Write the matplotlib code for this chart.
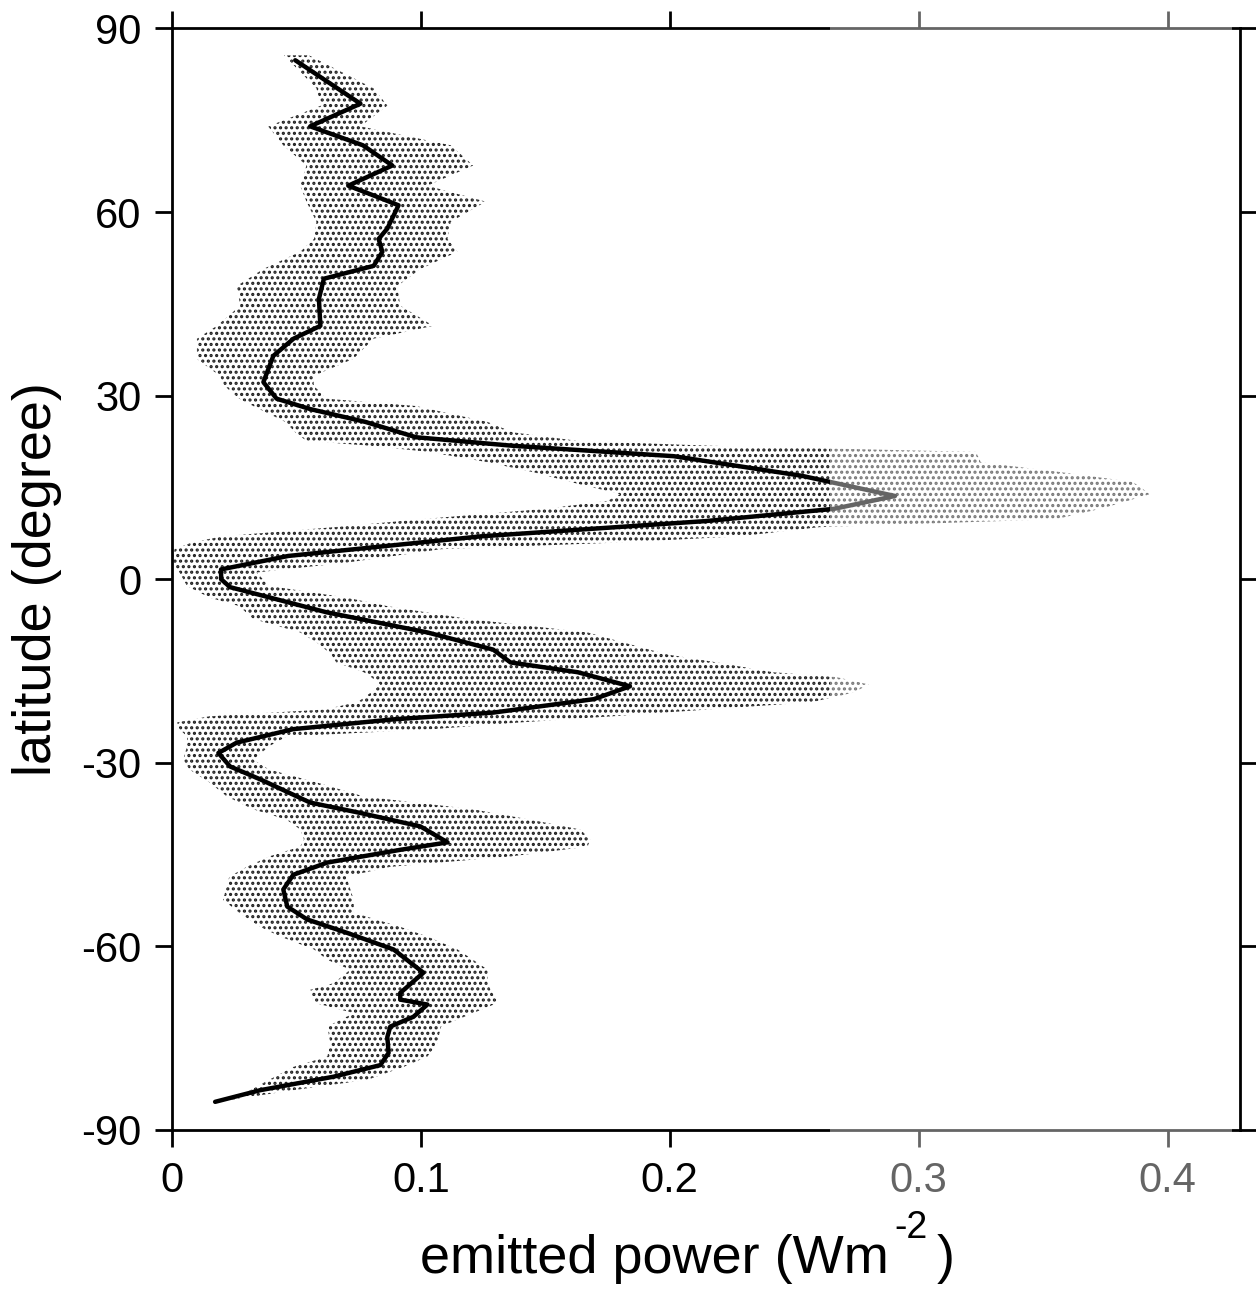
'''
Zonal profile of emitted power with its spread band
'''

import matplotlib
matplotlib.use('Agg')
import numpy as np
import matplotlib.pyplot as plt
from matplotlib.patches import Rectangle


##################################
# data

# mean curve, north to south
lat_line = [84.8, 77.7, 74.0, 70.9, 67.6, 64.3, 62.7, 61.1, 57.3, 55.6, 53.5, 51.2,
            49.1, 45.8, 41.4, 39.3, 36.5, 32.2, 29.5, 27.8, 25.7, 23.2, 21.8, 20.1,
            16.9, 13.6, 11.5, 9.5, 7.0, 3.8, 1.6, 0.0, -1.3, -5.4, -8.7, -11.5,
            -13.6, -15.2, -17.5, -19.6, -21.8, -22.9, -24.5, -26.7, -28.4, -30.6,
            -32.7, -36.5, -38.2, -40.4, -43.0, -44.2, -46.3, -48.3, -50.7, -53.5,
            -55.6, -57.8, -60.5, -64.3, -67.6, -68.7, -69.5, -71.5, -73.1, -74.8,
            -77.4, -79.4, -81.3, -83.5, -85.4]
power_line = [0.0495, 0.0757, 0.0555, 0.0767, 0.0885, 0.0708, 0.081, 0.091, 0.0865,
              0.083, 0.0845, 0.081, 0.061, 0.059, 0.0596, 0.0488, 0.0407, 0.0367,
              0.042, 0.0555, 0.0777, 0.098, 0.137, 0.2016, 0.253, 0.2905, 0.266,
              0.2145, 0.124, 0.0467, 0.0197, 0.0197, 0.0233, 0.062, 0.1026, 0.129,
              0.136, 0.163, 0.184, 0.1695, 0.129, 0.089, 0.0487, 0.026, 0.0186,
              0.0233, 0.0354, 0.0555, 0.0757, 0.0998, 0.1107, 0.092, 0.0624, 0.0487,
              0.0447, 0.0463, 0.0543, 0.0704, 0.089, 0.101, 0.0917, 0.0917, 0.1026,
              0.097, 0.0877, 0.0865, 0.087, 0.0837, 0.0648, 0.0354, 0.0173]

# spread band (lower and upper edge)
lat_band = [85.6, 80.2, 77.4, 74.0, 70.9, 67.6, 64.3, 61.7, 58.4, 55.6, 53.5, 50.7,
            47.9, 44.7, 41.4, 39.3, 36.0, 33.2, 31.6, 29.5, 28.3, 25.7, 24.0, 22.6,
            21.8, 20.8, 19.1, 17.5, 15.9, 13.9, 12.8, 11.5, 9.8, 8.5, 7.0, 6.0, 4.9,
            2.7, 1.1, -1.1, -3.0, -4.4, -6.5, -8.7, -10.3, -12.3, -13.6, -15.2,
            -16.0, -17.2, -18.5, -20.1, -21.3, -22.4, -23.4, -24.5, -25.7, -27.3,
            -29.5, -31.1, -33.2, -35.5, -37.6, -39.3, -40.9, -42.5, -43.7, -45.3,
            -47.0, -48.6, -52.4, -54.5, -56.8, -58.4, -60.5, -62.2, -63.8, -66.0,
            -67.1, -69.2, -70.9, -73.1, -75.8, -78.0, -79.7, -81.8, -83.5, -85.0]
band_lo = [0.045, 0.058, 0.060, 0.0386, 0.0447, 0.054, 0.0515, 0.054, 0.058, 0.057,
           0.0515, 0.0367, 0.026, 0.0274, 0.018, 0.010, 0.010, 0.0193, 0.021, 0.027,
           0.0326, 0.0455, 0.0495, 0.054, 0.080, 0.103, 0.127, 0.145, 0.160, 0.180,
           0.175, 0.150, 0.100, 0.065, 0.020, 0.008, 0.001, 0.000, 0.003, 0.006,
           0.015, 0.027, 0.0326, 0.0515, 0.058, 0.064, 0.066, 0.077, 0.080, 0.0837,
           0.080, 0.0745, 0.061, 0.015, 0.002, 0.003, 0.006, 0.006, 0.0045, 0.007,
           0.015, 0.022, 0.0326, 0.046, 0.0515, 0.053, 0.0515, 0.039, 0.030, 0.023,
           0.0205, 0.027, 0.0354, 0.0435, 0.057, 0.0624, 0.0716, 0.065, 0.0555,
           0.057, 0.073, 0.0624, 0.0636, 0.0624, 0.0487, 0.039, 0.0314, 0.020]
band_hi = [0.055, 0.081, 0.0865, 0.0757, 0.112, 0.121, 0.1026, 0.126, 0.112, 0.1107,
           0.1147, 0.0998, 0.0905, 0.0917, 0.105, 0.081, 0.0728, 0.0567, 0.057, 0.062,
           0.098, 0.1268, 0.137, 0.163, 0.217, 0.323, 0.325, 0.357, 0.386, 0.393,
           0.384, 0.373, 0.355, 0.260, 0.228, 0.180, 0.108, 0.070, 0.034, 0.039,
           0.070, 0.0865, 0.119, 0.167, 0.181, 0.199, 0.219, 0.2415, 0.267, 0.280,
           0.274, 0.257, 0.215, 0.177, 0.140, 0.105, 0.046, 0.039, 0.0326, 0.039,
           0.058, 0.077, 0.121, 0.144, 0.164, 0.168, 0.167, 0.136, 0.0877, 0.070,
           0.073, 0.073, 0.0917, 0.1026, 0.1147, 0.121, 0.1268, 0.1268, 0.128,
           0.131, 0.121, 0.108, 0.1066, 0.1026, 0.093, 0.0785, 0.0487, 0.025]

xticks = [0, 0.1, 0.2, 0.3, 0.4]
xticklabels = ['0', '0.1', '0.2', '0.3', '0.4']
yticks = [90, 60, 30, 0, -30, -60, -90]
yticklabels = ['90', '60', '30', '0', '-30', '-60', '-90']


##################################

plt.rcParams['font.family'] = ['Liberation Sans', 'DejaVu Sans']
plt.rcParams['hatch.linewidth'] = 1.5

W, H = 1256, 1292
fig = plt.figure(figsize=(W/100, H/100), dpi=100)
ax = fig.add_axes([0.137, 0.1254, 0.850, 0.8526])

# stippled spread band
ax.fill_betweenx(lat_band, band_lo, band_hi, facecolor='none', edgecolor='#1e1e1e',
                 hatch='...', linewidth=0, zorder=1)

# mean curve
ax.plot(power_line, lat_line, color='black', lw=3.2, zorder=3,
        solid_joinstyle='round', solid_capstyle='round')

ax.set_xlim(0, 0.429)
ax.set_ylim(-90, 90)
ax.set_xticks(xticks)
ax.set_xticklabels(xticklabels)
ax.set_yticks(yticks)
ax.set_yticklabels(yticklabels)
ax.tick_params(direction='out', length=12, width=2, labelsize=30, pad=10,
               top=True, right=True)
for s in ax.spines.values():
  s.set_linewidth(2)

# x label in three pieces so the "-2" sits raised after "Wm"
fig.text(420/W, 1 - 1273/H, 'emitted power (Wm', fontsize=39, ha='left', va='baseline')
fig.text(894/W, 1 - 1238/H, '-2', fontsize=27, ha='left', va='baseline')
fig.text(937/W, 1 - 1273/H, ')', fontsize=39, ha='left', va='baseline')
ax.set_ylabel('latitude (degree)', fontsize=39, labelpad=14)

# lighter strip of the scanned page on the right
fig.patches.append(Rectangle((830/W, 1 - 1205/H), (1232-830)/W, 1205/H,
                             transform=fig.transFigure, facecolor='white', alpha=0.4,
                             edgecolor='none', zorder=10))

fig.savefig('out.png', dpi=100)
plt.close()
